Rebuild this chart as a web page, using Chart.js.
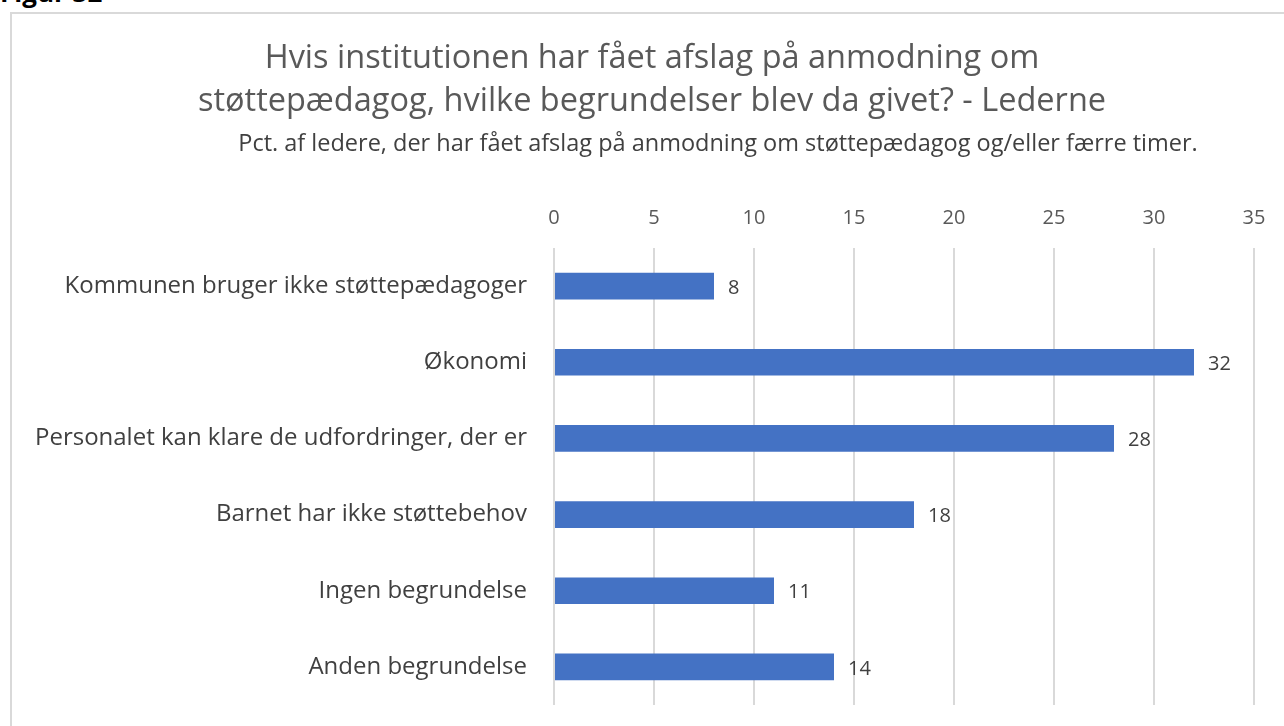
<!DOCTYPE html>
<html>
<head>
<meta charset="utf-8">
<script src="https://cdn.jsdelivr.net/npm/chart.js@4"></script>
<style>
    html, body { margin: 0; padding: 0; background: #fff; overflow: hidden; }
    #page { position: relative; width: 1284px; height: 726px; overflow: hidden; }
    #fig-label { position: absolute; left: 0; top: -26px; font: bold 26px "Open Sans", sans-serif; color: #000; }
    #frame { position: absolute; left: 10px; top: 12px; width: 1400px; height: 900px; border: 2px solid #d9d9d9; }
    #wrap { position: absolute; left: 0; top: 0; width: 1284px; height: 726px; }
</style>
</head>
<body>
<div id="page">
    <div id="fig-label">Figur 32</div>
    <div id="frame"></div>
    <div id="wrap"><canvas id="chart"></canvas></div>
</div>
<script>
// Data
const categories = [
    'Kommunen bruger ikke støttepædagoger',
    'Økonomi',
    'Personalet kan klare de udfordringer, der er',
    'Barnet har ikke støttebehov',
    'Ingen begrundelse',
    'Anden begrundelse'
];
const values = [8, 32, 28, 18, 11, 14];
const titleLines = ['Hvis institutionen har fået afslag på anmodning om', 'støttepædagog, hvilke begrundelser blev da givet? - Lederne'];
const subtitleText = 'Pct. af ledere, der har fået afslag på anmodning om støttepædagog og/eller færre timer.';
const xMin = 0, xMax = 35, xStep = 5;

const FONT = '"Open Sans", sans-serif';

// value labels at the end of each bar + subtitle
const extraText = {
    id: 'extraText',
    afterDatasetsDraw(chart) {
        const ctx = chart.ctx;
        ctx.save();
        ctx.font = `20px ${FONT}`;
        ctx.fillStyle = '#404040';
        ctx.textAlign = 'left';
        ctx.textBaseline = 'middle';
        chart.getDatasetMeta(0).data.forEach((bar, i) => {
            ctx.fillText(String(values[i]), bar.x + 14, bar.y + 2);
        });
        ctx.font = `23.5px ${FONT}`;
        ctx.textAlign = 'center';
        ctx.fillText(subtitleText, 718, 144);
        ctx.restore();
    }
};

const chart = new Chart(document.getElementById('chart'), {
    type: 'bar',
    data: {
        labels: categories,
        datasets: [{
            data: values,
            backgroundColor: '#4472C4',
            borderWidth: 0,
            barPercentage: 0.35,
            categoryPercentage: 1
        }]
    },
    options: {
        indexAxis: 'y',
        responsive: true,
        maintainAspectRatio: false,
        animation: false,
        layout: { padding: { left: 20, right: 0, top: 37, bottom: 21 } },
        plugins: {
            legend: { display: false },
            tooltip: { enabled: false },
            title: {
                display: true,
                text: titleLines,
                color: '#595959',
                font: { family: FONT, size: 32.5, weight: 'normal', lineHeight: 1.323 },
                padding: { top: 0, bottom: 65 }
            }
        },
        scales: {
            x: {
                position: 'top',
                min: xMin,
                max: xMax,
                afterFit: (scale) => { scale.paddingRight = 30; },
                ticks: { stepSize: xStep, color: '#595959', font: { family: FONT, size: 20 }, padding: 18 },
                grid: { color: '#d9d9d9', lineWidth: 2, drawTicks: false },
                border: { display: false }
            },
            y: {
                afterFit: (scale) => {
                    scale.width = 534;
                    scale.paddingTop = 0;
                    scale.paddingBottom = 0;
                },
                ticks: { color: '#404040', font: { family: FONT, size: 24 }, padding: 27 },
                grid: { display: false, drawTicks: false },
                border: { display: false }
            }
        }
    },
    plugins: [extraText]
});
</script>
</body>
</html>
